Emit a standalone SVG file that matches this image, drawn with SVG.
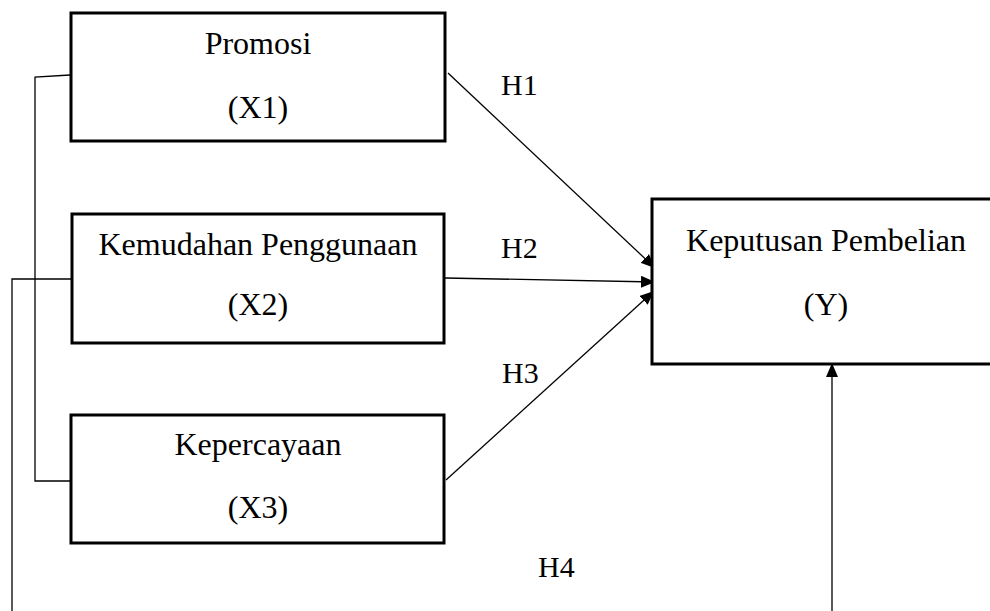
<svg xmlns="http://www.w3.org/2000/svg" width="990" height="611" viewBox="0 0 990 611">
<style>
.box{fill:#fff;stroke:#000;stroke-width:3}
.t{font-family:"Liberation Serif","Times New Roman",serif;font-size:32px;fill:#000;text-anchor:middle}
.h{font-family:"Liberation Serif","Times New Roman",serif;font-size:30px;fill:#000}
.c{fill:none;stroke:#000;stroke-width:1.3}
</style>
<defs>
<marker id="arr" viewBox="0 0 14 12" refX="14" refY="6" markerWidth="14" markerHeight="12" markerUnits="userSpaceOnUse" orient="auto">
<path d="M0,0 L14,6 L0,12 Z" fill="#000"/>
</marker>
</defs>
<rect width="990" height="611" fill="#fff"/>
<g id="connectors">
<polyline class="c" points="70,75 35,77 35,481 72,481"/>
<polyline class="c" points="72,279 12,279 12,611"/>
<line class="c" x1="448" y1="73" x2="655" y2="268" marker-end="url(#arr)"/>
<line class="c" x1="445" y1="278" x2="655" y2="282" marker-end="url(#arr)"/>
<line class="c" x1="446" y1="480" x2="654" y2="291" marker-end="url(#arr)"/>
<line class="c" x1="832" y1="611" x2="832" y2="363" marker-end="url(#arr)"/>
</g>
<g id="labels">
<text class="h" x="501" y="95">H1</text>
<text class="h" x="501" y="258">H2</text>
<text class="h" x="502" y="383">H3</text>
<text class="h" x="538" y="577">H4</text>
</g>
<g id="promosi">
<rect class="box" x="71" y="13" width="374" height="128"/>
<text class="t" x="258" y="54">Promosi</text>
<text class="t" x="258" y="118">(X1)</text>
</g>
<g id="kemudahan">
<rect class="box" x="72" y="214" width="372" height="129"/>
<text class="t" x="258" y="255">Kemudahan Penggunaan</text>
<text class="t" x="258" y="315">(X2)</text>
</g>
<g id="kepercayaan">
<rect class="box" x="71" y="415" width="373" height="128"/>
<text class="t" x="258" y="455">Kepercayaan</text>
<text class="t" x="258" y="518">(X3)</text>
</g>
<g id="keputusan">
<rect class="box" x="652" y="199" width="345" height="165"/>
<text class="t" x="826" y="251">Keputusan Pembelian</text>
<text class="t" x="826" y="315">(Y)</text>
</g>
</svg>
